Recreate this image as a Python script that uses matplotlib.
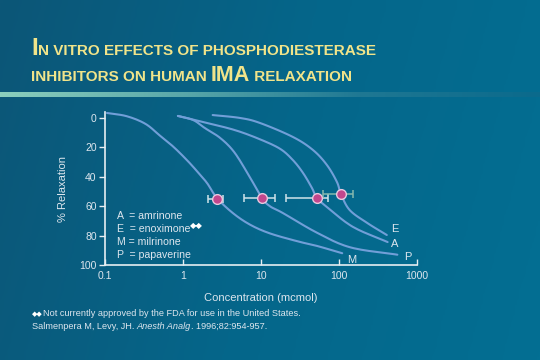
import matplotlib as mpl
import matplotlib.pyplot as plt
import numpy as np
from matplotlib.colors import LinearSegmentedColormap

# curves (concentration in mcmol, % relaxation)
conc_M = [0.106, 0.19, 0.33, 0.506, 0.75, 1.12, 1.5, 2.03, 2.72, 4.34, 7.2, 13, 30, 52, 110]
rel_M = [-3.4, -1.2, 4, 12, 19.5, 28.6, 36, 44.2, 54.4, 64.6, 72.5, 78.5, 84, 87, 92]

conc_P = [0.86, 1.35, 1.9, 3.0, 4.5, 6.8, 10.3, 13, 19, 52, 140, 560]
rel_P = [-1.4, 1.4, 6.8, 13.6, 23, 38, 54.4, 60, 64.6, 78, 88, 93]

conc_A = [0.86, 1.8, 4.6, 9.7, 17.6, 25.6, 34.6, 45, 52, 70, 150, 420]
rel_A = [-1.4, 2.7, 8.2, 14.5, 21, 28.6, 37.4, 47.6, 54.4, 60.5, 74, 84.4]

conc_E = [2.4, 5.4, 9.7, 25.6, 46.4, 70, 94, 106, 137, 230, 410]
rel_E = [-2, 0, 3.4, 12.9, 21.8, 32, 43.5, 51.7, 62.6, 71.4, 79.6]

# EC50 points with error ranges
ec_conc = [2.7, 10.3, 52, 106]
ec_rel = [55, 54.4, 54.4, 51.7]
ec_lo = [2.09, 6.05, 20.9, 62.4]
ec_hi = [3.26, 15.1, 72.3, 151]

x_ticks = [0.1, 1, 10, 100, 1000]
x_labels = ['0.1', '1', '10', '100', '1000']
y_ticks = [0, 20, 40, 60, 80, 100]

legend_lines = ['A  = amrinone', 'E  = enoximone', 'M = milrinone', 'P  = papaverine']

txt = '#dde6ee'
curve_col = '#719fd8'
fam = ['Liberation Sans', 'DejaVu Sans']
mpl.rcParams['font.family'] = fam


def smooth_path(xs, ys, n=12):
    # Catmull-Rom through the read points, in log-x space (drawing only)
    p = np.column_stack([np.log10(xs), ys])
    p = np.vstack([p[0] - (p[1] - p[0]), p, p[-1] + (p[-1] - p[-2])])
    out = []
    t = np.linspace(0, 1, n, endpoint=False)[:, None]
    for i in range(1, len(p) - 2):
        p0, p1, p2, p3 = p[i - 1], p[i], p[i + 1], p[i + 2]
        seg = 0.5 * ((2 * p1) + (-p0 + p2) * t + (2 * p0 - 5 * p1 + 4 * p2 - p3) * t ** 2
                     + (-p0 + 3 * p1 - 3 * p2 + p3) * t ** 3)
        out.append(seg)
    out.append(p[-2][None, :])
    out = np.vstack(out)
    return 10 ** out[:, 0], out[:, 1]


fig = plt.figure(figsize=(5.4, 3.6), dpi=100)

# background gradient
bg = fig.add_axes([0, 0, 1, 1], zorder=-10)
bg_cmap = LinearSegmentedColormap.from_list('bg', ['#0c5677', '#05668a', '#036f93'])
gx = np.linspace(0, 1, 256)
gy = np.linspace(0, 1, 64)
grad = gx[None, :] * 0.85 + gy[:, None] * 0.15
bg.imshow(grad, cmap=bg_cmap, aspect='auto', extent=[0, 1, 0, 1], origin='upper')

# rule under title
bar_cmap = LinearSegmentedColormap.from_list('bar', ['#8ccfbd', '#5aa8aa', '#1f7893', '#0b6a8c'])
bg.imshow(gx[None, :], cmap=bar_cmap, aspect='auto',
          extent=[0, 1, 1 - 97.5 / 360, 1 - 93 / 360], zorder=2)
bg.set_xlim(0, 1)
bg.set_ylim(0, 1)
bg.axis('off')

# title pieces with small caps
title_col = '#f1e48a'
renderer = fig.canvas.get_renderer()


def put_pieces(pieces, x0, y0):
    x = x0
    for s, size in pieces:
        t = fig.text(x, y0, s, fontsize=size, color=title_col, fontweight='bold',
                     family='Liberation Sans', ha='left', va='baseline')
        bb = t.get_window_extent(renderer=renderer)
        x += bb.width / fig.bbox.width


put_pieces([('I', 17.5), ('N VITRO EFFECTS OF PHOSPHODIESTERASE', 11)], 31 / 540, 1 - 55 / 360)
put_pieces([('INHIBITORS ON HUMAN ', 11), ('IMA', 15.5), (' RELAXATION', 11)], 31 / 540, 1 - 81 / 360)

# main chart
ax = fig.add_axes([105 / 540, 1 - 265 / 360, 312 / 540, (265 - 112.1) / 360])
ax.set_facecolor('none')
ax.set_xscale('log')
ax.set_xlim(0.1, 1000)
ax.set_ylim(100, -4)

for c, r in [(conc_M, rel_M), (conc_P, rel_P), (conc_A, rel_A), (conc_E, rel_E)]:
    sx, sy = smooth_path(c, r)
    ax.plot(sx, sy, color=curve_col, lw=1.5, solid_joinstyle='round', solid_capstyle='round',
            clip_on=False, zorder=2)

ec_conc_a = np.array(ec_conc)
xerr = [ec_conc_a - np.array(ec_lo), np.array(ec_hi) - ec_conc_a]
err_cols = ['#cfe3ea', '#cfe3ea', '#cfe3ea', '#86b8ae']
for i in range(len(ec_conc)):
    ax.errorbar(ec_conc[i], ec_rel[i], xerr=[[xerr[0][i]], [xerr[1][i]]], fmt='none',
                ecolor=err_cols[i], elinewidth=1.1, capsize=2.6, capthick=1.1, zorder=3)
ax.plot(ec_conc, ec_rel, 'o', ms=7, mfc='#c1478d', mec='#e9c9df', mew=1.0, zorder=4)

# curve labels
ax.text(470, 75.5, 'E', color=txt, fontsize=8, ha='left', va='center')
ax.text(470, 85.7, 'A', color=txt, fontsize=8, ha='left', va='center')
ax.text(680, 94.5, 'P', color=txt, fontsize=8, ha='left', va='center')
ax.text(128, 96.5, 'M', color=txt, fontsize=8, ha='left', va='center')

# legend block
for i, s in enumerate(legend_lines):
    ax.text(0.143, 66.8 + i * 8.7, s, color=txt, fontsize=7.6, ha='left', va='center')
ax.text(1.22, 73.0, '◆◆', color='white', fontsize=6, ha='left', va='center',
        family='DejaVu Sans')

for side in ['top', 'right']:
    ax.spines[side].set_visible(False)
for side in ['left', 'bottom']:
    ax.spines[side].set_color('#e6eef2')
    ax.spines[side].set_linewidth(1.2)

ax.set_xticks(x_ticks)
ax.set_xticklabels(x_labels)
ax.xaxis.set_minor_locator(mpl.ticker.NullLocator())
ax.set_yticks(y_ticks)
ax.tick_params(axis='x', direction='in', length=4, width=1, colors='#e6eef2',
               labelcolor=txt, labelsize=7.5, pad=4)
ax.tick_params(axis='y', direction='out', length=4, width=1, colors='#e6eef2',
               labelcolor=txt, labelsize=7.5, pad=2)
ax.set_ylabel('% Relaxation', color=txt, fontsize=8, labelpad=8)
ax.set_xlabel('Concentration (mcmol)', color=txt, fontsize=8, labelpad=9)

# footnote
fig.text(32 / 540, 1 - 316 / 360, '◆◆', color='white', fontsize=5, family='DejaVu Sans',
         ha='left', va='baseline')
fig.text(43 / 540, 1 - 316 / 360, 'Not currently approved by the FDA for use in the United States.',
         color=txt, fontsize=6.6, ha='left', va='baseline')
put_x = 32 / 540
t1 = fig.text(put_x, 1 - 329 / 360, 'Salmenpera M, Levy, JH. ', color=txt, fontsize=6.6,
              ha='left', va='baseline')
w1 = t1.get_window_extent(renderer=renderer).width / fig.bbox.width
t2 = fig.text(put_x + w1, 1 - 329 / 360, 'Anesth Analg', color=txt, fontsize=6.6, style='italic',
              ha='left', va='baseline')
w2 = t2.get_window_extent(renderer=renderer).width / fig.bbox.width
fig.text(put_x + w1 + w2, 1 - 329 / 360, '. 1996;82:954-957.', color=txt, fontsize=6.6,
         ha='left', va='baseline')

fig.savefig('out.png', dpi=100)
